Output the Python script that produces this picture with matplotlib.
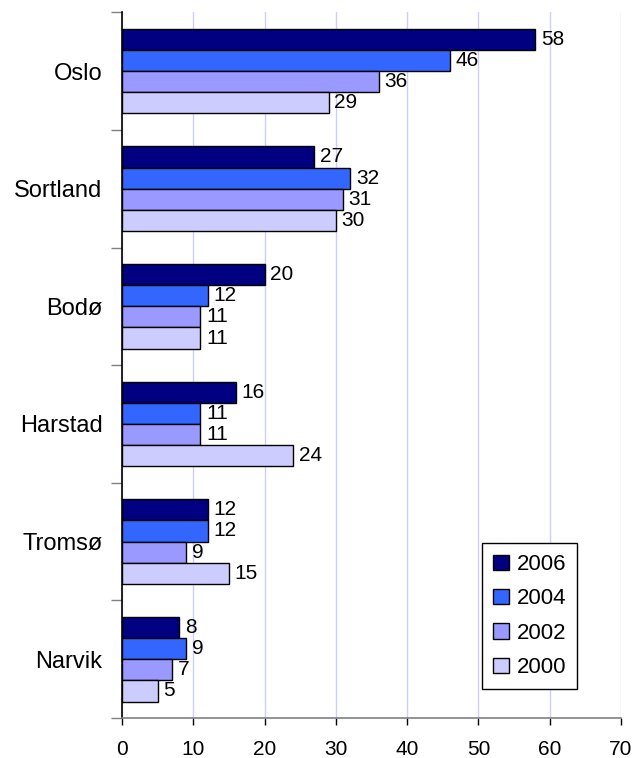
import numpy as np
import matplotlib.pyplot as plt

plt.rcParams['font.family'] = ['Liberation Sans', 'DejaVu Sans']

cities = ['Oslo', 'Sortland', 'Bodø', 'Harstad', 'Tromsø', 'Narvik']
years = ['2006', '2004', '2002', '2000']
v2006 = [58, 27, 20, 16, 12, 8]
v2004 = [46, 32, 12, 11, 12, 9]
v2002 = [36, 31, 11, 11, 9, 7]
v2000 = [29, 30, 11, 24, 15, 5]
series = [v2006, v2004, v2002, v2000]
colors = ['#000080', '#3366ff', '#9999ff', '#ccccff']

fig = plt.figure(figsize=(6.34, 7.58), dpi=100)
ax = fig.add_axes([0.1924, 0.0528, 0.787, 0.931])

n = len(cities)
pos = np.arange(n)
bh = 0.18
for i, (vals, col, yr) in enumerate(zip(series, colors, years)):
    y = pos + (i - 1.5) * bh
    bars = ax.barh(y, vals, height=bh, color=col, edgecolor='black',
                   linewidth=1.0, label=yr, zorder=3)
    for b, v in zip(bars, vals):
        ax.text(v + 0.8, b.get_y() + bh / 2, str(v), va='center', ha='left',
                fontsize=15, zorder=4)

ax.set_xlim(0, 70)
ax.set_ylim(n - 0.5, -0.5)
ax.set_xticks(range(0, 71, 10))
ax.tick_params(axis='x', labelsize=15, length=5, width=1, direction='out', pad=11)
ax.set_yticks(pos)
ax.set_yticklabels(cities, fontsize=17)
ax.tick_params(axis='y', length=0, pad=14)
ax.set_yticks(np.arange(-0.5, n, 1.0), minor=True)
ax.tick_params(axis='y', which='minor', length=8, width=1, color='#808080')
ax.grid(axis='x', color='#ccccff', linewidth=1, zorder=0)
for s in ['top', 'right']:
    ax.spines[s].set_visible(False)
ax.spines['left'].set_linewidth(1.2)
ax.spines['bottom'].set_color('#808080')
ax.spines['bottom'].set_linewidth(1.2)

leg = ax.legend(loc='upper left', bbox_to_anchor=(482 / 634, 1 - 543 / 758),
                bbox_transform=fig.transFigure, borderaxespad=0, fontsize=16,
                handlelength=0.7, handleheight=0.7, handletextpad=0.35,
                labelspacing=0.6, borderpad=0.5, fancybox=False,
                framealpha=1, edgecolor='black')
leg.get_frame().set_linewidth(1.0)

fig.savefig('out.png', dpi=100)
